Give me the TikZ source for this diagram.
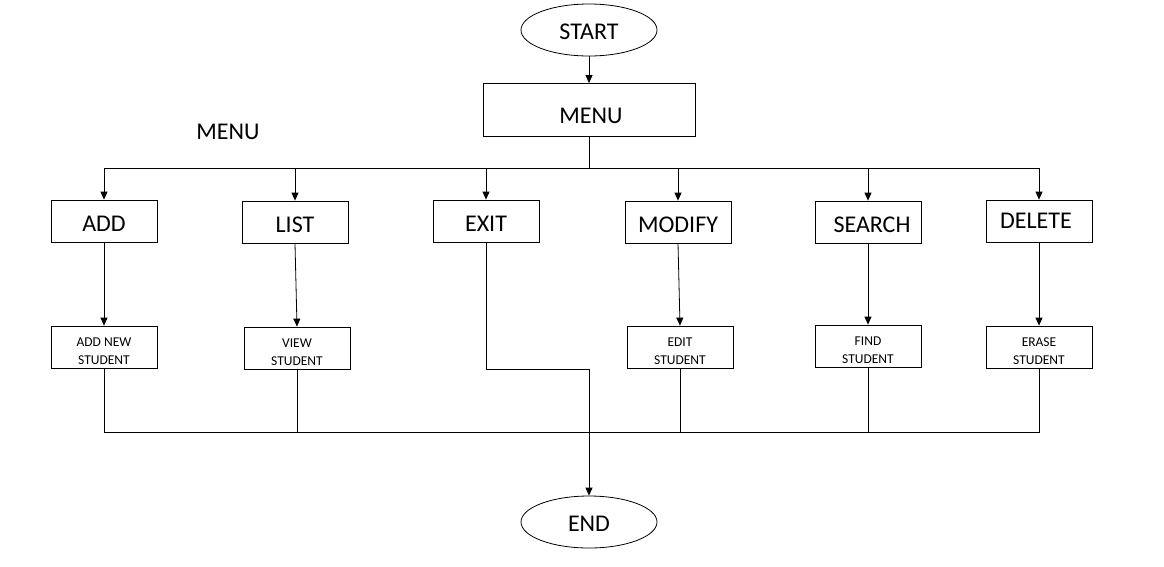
\documentclass[tikz,border=0pt]{standalone}
\usepackage{fontspec}
\setmainfont{Carlito}
\usetikzlibrary{shapes.geometric,arrows.meta}
\begin{document}
\begin{tikzpicture}[x=1pt,y=-1pt,
  big/.style={draw,line width=0.8pt,minimum width=106pt,minimum height=42pt,inner sep=0pt,text height=21.5pt,text depth=0pt,font=\fontsize{24}{26}\selectfont},
  small/.style={draw,line width=0.8pt,minimum width=106pt,minimum height=42pt,inner sep=0pt},
  stext/.style={align=center,inner sep=0pt,yshift=-4pt,font=\fontsize{13.5}{18}\selectfont},
  lab/.style={font=\fontsize{24}{26}\selectfont,inner sep=0pt},
  term/.style={draw,ellipse,line width=0.8pt,minimum width=136pt,minimum height=52pt,inner sep=0pt,text height=19pt,text depth=0pt,font=\fontsize{24}{26}\selectfont},
  arr/.style={line width=0.8pt,-{Triangle[length=8pt,width=7pt]}},
  ln/.style={line width=0.8pt}]
\useasboundingbox (0,0) rectangle (1164,566);
\node[term] (start) at (589,30) {START};
\node[big,minimum width=212pt,minimum height=53pt] (menu) at (589,110) {};
\node[lab] (menut) at (591,116) {MENU};
\node[lab] (lbl) at (228,132) {MENU};
\node[big] (add) at (104,221) {ADD};
\node[big] (list) at (295,222) {LIST};
\node[big] (exit) at (486,221) {EXIT};
\node[big] (mod) at (678,222) {MODIFY};
\node[big] (srch) at (868,222) {};
\node[lab] (srcht) at (872,225) {SEARCH};
\node[big] (del) at (1039,221) {};
\node[lab] (delt) at (1036,221) {DELETE};
\node[small] (sadd) at (104,347) {};
\node[small] (slist) at (297,348) {};
\node[small] (smod) at (680,347) {};
\node[small] (ssrch) at (868,346) {};
\node[small] (sdel) at (1039,347) {};
\node[stext] (tadd) at (sadd) {ADD NEW\\STUDENT};
\node[stext] (tlist) at (slist) {VIEW\\STUDENT};
\node[stext] (tmod) at (smod) {EDIT\\STUDENT};
\node[stext] (tsrch) at (ssrch) {FIND\\STUDENT};
\node[stext] (tdel) at (sdel) {ERASE\\STUDENT};
\node[term] (end) at (589,522) {END};
\coordinate (bus) at (589,168);
\coordinate (join) at (589,432);
\draw[arr] (start) -- (menu);
\draw[ln] (menu.south) -- (bus);
\draw[ln] (104,168) -- (1039,168);
\foreach \n in {add,list,exit,mod,srch,del}
  \draw[arr] (\n.north |- bus) -- (\n.north);
\draw[arr] (add) -- (sadd);
\draw[arr] (list.south) -- (slist.north);
\draw[arr] (mod.south) -- (smod.north);
\draw[arr] (srch) -- (ssrch);
\draw[arr] (del) -- (sdel);
\draw[ln] (sadd.south) |- (join);
\draw[ln] (sdel.south) |- (join);
\foreach \n in {slist,smod,ssrch}
  \draw[ln] (\n.south) -- (\n.south |- join);
\draw[ln] (exit.south) |- (589,369) -- (join);
\draw[arr] (join) -- (end);
\end{tikzpicture}
\end{document}
